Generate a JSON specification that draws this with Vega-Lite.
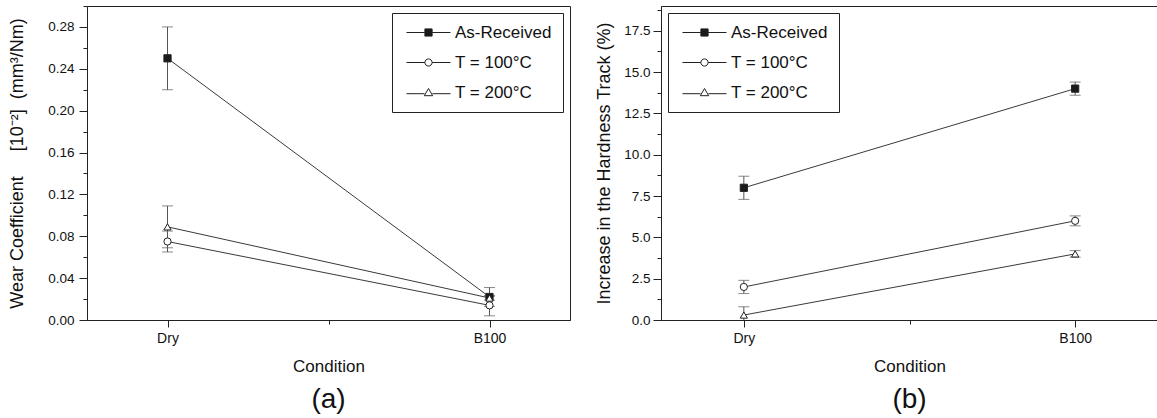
{
  "$schema": "https://vega.github.io/schema/vega-lite/v6.json",
  "padding": {"left": 8, "top": 5, "right": 0, "bottom": 0},
  "spacing": 24,
  "datasets": {
    "cond": [
      {"condition": "Dry", "order": 1},
      {"condition": "B100", "order": 2}
    ],
    "wear": [
      {"series": "As-Received", "condition": "Dry", "value": 0.25, "lo": 0.22, "hi": 0.28},
      {"series": "As-Received", "condition": "B100", "value": 0.022, "lo": 0.013, "hi": 0.031},
      {"series": "T = 100°C", "condition": "Dry", "value": 0.075, "lo": 0.065, "hi": 0.085},
      {"series": "T = 100°C", "condition": "B100", "value": 0.014, "lo": 0.004, "hi": 0.023},
      {"series": "T = 200°C", "condition": "Dry", "value": 0.089, "lo": 0.069, "hi": 0.109},
      {"series": "T = 200°C", "condition": "B100", "value": 0.021, "lo": 0.019, "hi": 0.023}
    ],
    "hard": [
      {"series": "As-Received", "condition": "Dry", "value": 8.0, "lo": 7.3, "hi": 8.7},
      {"series": "As-Received", "condition": "B100", "value": 14.0, "lo": 13.6, "hi": 14.4},
      {"series": "T = 100°C", "condition": "Dry", "value": 2.0, "lo": 1.6, "hi": 2.4},
      {"series": "T = 100°C", "condition": "B100", "value": 6.0, "lo": 5.7, "hi": 6.3},
      {"series": "T = 200°C", "condition": "Dry", "value": 0.3, "lo": -0.2, "hi": 0.8},
      {"series": "T = 200°C", "condition": "B100", "value": 4.0, "lo": 3.8, "hi": 4.2}
    ]
  },
  "hconcat": [
    {
      "width": 483,
      "height": 314,
      "data": {"name": "wear"},
      "transform": [
        {"lookup": "condition", "from": {"data": {"name": "cond"}, "key": "condition", "fields": ["order"]}}
      ],
      "title": {"text": "(a)", "orient": "bottom", "anchor": "middle", "frame": "group", "fontSize": 28, "fontWeight": "normal", "font": "Liberation Sans", "color": "#111", "offset": 12},
      "layer": [
        {
          "mark": {"type": "line", "color": "#3a3a3a", "strokeWidth": 1},
          "encoding": {
            "x": {"field": "order", "type": "quantitative", "scale": {"domain": [0.75, 2.25], "nice": false, "zero": false},
              "axis": {"orient": "bottom", "values": [1, 2], "labelExpr": "datum.value == 1 ? 'Dry' : 'B100'", "tickSize": 7, "labelPadding": 4, "labelFontSize": 14, "title": "Condition", "titlePadding": 13, "titleFontSize": 17}},
            "y": {"field": "value", "type": "quantitative", "scale": {"domain": [0, 0.3], "nice": false},
              "axis": {"orient": "left", "values": [0, 0.04, 0.08, 0.12, 0.16, 0.2, 0.24, 0.28], "format": ".2f", "tickSize": 8, "labelPadding": 5, "title": "Wear Coefficient\u00a0\u00a0\u00a0\u00a0\u00a0[10\u207b\u00b2]\u00a0\u00a0(mm\u00b3/Nm)", "titlePadding": 21}},
            "detail": {"field": "series"}
          }
        },
        {
          "mark": {"type": "rule", "color": "#555", "strokeWidth": 1, "clip": true},
          "encoding": {
            "x": {"field": "order", "type": "quantitative", "scale": {"domain": [0.75, 2.25], "nice": false, "zero": false},
              "axis": {"orient": "bottom", "values": [1.5], "tickSize": 4, "labels": false, "domain": false, "title": null}},
            "y": {"field": "lo", "type": "quantitative", "scale": {"domain": [0, 0.3], "nice": false},
              "axis": {"orient": "left", "values": [0.02, 0.06, 0.1, 0.14, 0.18, 0.22, 0.26, 0.3], "tickSize": 4, "labels": false, "domain": false, "title": null}},
            "y2": {"field": "hi"}
          }
        },
        {
          "mark": {"type": "tick", "orient": "horizontal", "size": 11, "thickness": 1, "color": "#555", "clip": true},
          "encoding": {
            "x": {"field": "order", "type": "quantitative", "scale": {"domain": [0.75, 2.25], "nice": false, "zero": false}, "axis": null},
            "y": {"field": "lo", "type": "quantitative", "scale": {"domain": [0, 0.3], "nice": false}, "axis": null}
          }
        },
        {
          "mark": {"type": "tick", "orient": "horizontal", "size": 11, "thickness": 1, "color": "#555", "clip": true},
          "encoding": {
            "x": {"field": "order", "type": "quantitative", "scale": {"domain": [0.75, 2.25], "nice": false, "zero": false}, "axis": null},
            "y": {"field": "hi", "type": "quantitative", "scale": {"domain": [0, 0.3], "nice": false}, "axis": null}
          }
        },
        {
          "mark": {"type": "point", "size": 52, "strokeWidth": 1, "stroke": "#222", "filled": true, "opacity": 1},
          "encoding": {
            "x": {"field": "order", "type": "quantitative", "scale": {"domain": [0.75, 2.25], "nice": false, "zero": false}, "axis": null},
            "y": {"field": "value", "type": "quantitative", "scale": {"domain": [0, 0.3], "nice": false}, "axis": null},
            "shape": {"field": "series", "type": "nominal", "legend": null,
              "scale": {"domain": ["As-Received", "T = 100°C", "T = 200°C"], "range": ["square", "circle", "triangle-up"]}},
            "fill": {"field": "series", "type": "nominal",
              "scale": {"domain": ["As-Received", "T = 100°C", "T = 200°C"], "range": ["#1a1a1a", "white", "white"]},
              "legend": {"title": null, "orient": "top-right", "offset": 7, "padding": 11, "strokeColor": "#222", "fillColor": "white",
                "labelFontSize": 17, "labelFont": "Liberation Sans", "labelColor": "#111", "symbolSize": 64, "symbolOffset": 17, "labelOffset": 18, "rowPadding": 12, "labelLimit": 300, "symbolStrokeWidth": 1,
                "encoding": {"symbols": {
                  "shape": {"value": {"expr": "datum.value === 'As-Received' ? 'M-5.5,0H-0.9M0.9,0H5.5M-0.9,-0.9H0.9V0.9H-0.9Z' : datum.value === 'T = 100°C' ? 'M-5.5,0H-0.9M0.9,0H5.5M-0.9,0A0.9,0.9,0,1,0,0.9,0A0.9,0.9,0,1,0,-0.9,0Z' : 'M-5.5,0.3H-1M1,0.3H5.5M0,-1L1.05,0.8L-1.05,0.8Z'"}},
                  "fill": {"value": {"expr": "datum.value === 'As-Received' ? '#1a1a1a' : 'white'"}},
                  "stroke": {"value": "#222"},
                  "strokeWidth": {"value": 1}}}}}
          }
        }
      ],
      "resolve": {"axis": {"x": "independent", "y": "independent"}}
    },
    {
      "width": 497,
      "height": 314,
      "data": {"name": "hard"},
      "transform": [
        {"lookup": "condition", "from": {"data": {"name": "cond"}, "key": "condition", "fields": ["order"]}}
      ],
      "title": {"text": "(b)", "orient": "bottom", "anchor": "middle", "frame": "group", "fontSize": 28, "fontWeight": "normal", "font": "Liberation Sans", "color": "#111", "offset": 12},
      "layer": [
        {
          "mark": {"type": "line", "color": "#3a3a3a", "strokeWidth": 1},
          "encoding": {
            "x": {"field": "order", "type": "quantitative", "scale": {"domain": [0.75, 2.25], "nice": false, "zero": false},
              "axis": {"orient": "bottom", "values": [1, 2], "labelExpr": "datum.value == 1 ? 'Dry' : 'B100'", "tickSize": 7, "labelPadding": 4, "labelFontSize": 14, "title": "Condition", "titlePadding": 13, "titleFontSize": 17}},
            "y": {"field": "value", "type": "quantitative", "scale": {"domain": [0, 19], "nice": false},
              "axis": {"orient": "left", "values": [0, 2.5, 5, 7.5, 10, 12.5, 15, 17.5], "format": ".1f", "tickSize": 8, "labelPadding": 3, "title": "Increase in the Hardness Track (%)", "titlePadding": 10}},
            "detail": {"field": "series"}
          }
        },
        {
          "mark": {"type": "rule", "color": "#555", "strokeWidth": 1, "clip": true},
          "encoding": {
            "x": {"field": "order", "type": "quantitative", "scale": {"domain": [0.75, 2.25], "nice": false, "zero": false},
              "axis": {"orient": "bottom", "values": [1.5], "tickSize": 4, "labels": false, "domain": false, "title": null}},
            "y": {"field": "lo", "type": "quantitative", "scale": {"domain": [0, 19], "nice": false},
              "axis": {"orient": "left", "values": [1.25, 3.75, 6.25, 8.75, 11.25, 13.75, 16.25, 18.75], "tickSize": 4, "labels": false, "domain": false, "title": null}},
            "y2": {"field": "hi"}
          }
        },
        {
          "mark": {"type": "tick", "orient": "horizontal", "size": 11, "thickness": 1, "color": "#555", "clip": true},
          "encoding": {
            "x": {"field": "order", "type": "quantitative", "scale": {"domain": [0.75, 2.25], "nice": false, "zero": false}, "axis": null},
            "y": {"field": "lo", "type": "quantitative", "scale": {"domain": [0, 19], "nice": false}, "axis": null}
          }
        },
        {
          "mark": {"type": "tick", "orient": "horizontal", "size": 11, "thickness": 1, "color": "#555", "clip": true},
          "encoding": {
            "x": {"field": "order", "type": "quantitative", "scale": {"domain": [0.75, 2.25], "nice": false, "zero": false}, "axis": null},
            "y": {"field": "hi", "type": "quantitative", "scale": {"domain": [0, 19], "nice": false}, "axis": null}
          }
        },
        {
          "mark": {"type": "point", "size": 52, "strokeWidth": 1, "stroke": "#222", "filled": true, "opacity": 1},
          "encoding": {
            "x": {"field": "order", "type": "quantitative", "scale": {"domain": [0.75, 2.25], "nice": false, "zero": false}, "axis": null},
            "y": {"field": "value", "type": "quantitative", "scale": {"domain": [0, 19], "nice": false}, "axis": null},
            "shape": {"field": "series", "type": "nominal", "legend": null,
              "scale": {"domain": ["As-Received", "T = 100°C", "T = 200°C"], "range": ["square", "circle", "triangle-up"]}},
            "fill": {"field": "series", "type": "nominal",
              "scale": {"domain": ["As-Received", "T = 100°C", "T = 200°C"], "range": ["#1a1a1a", "white", "white"]},
              "legend": {"title": null, "orient": "top-left", "offset": 7, "padding": 11, "strokeColor": "#222", "fillColor": "white",
                "labelFontSize": 17, "labelFont": "Liberation Sans", "labelColor": "#111", "symbolSize": 64, "symbolOffset": 17, "labelOffset": 18, "rowPadding": 12, "labelLimit": 300, "symbolStrokeWidth": 1,
                "encoding": {"symbols": {
                  "shape": {"value": {"expr": "datum.value === 'As-Received' ? 'M-5.5,0H-0.9M0.9,0H5.5M-0.9,-0.9H0.9V0.9H-0.9Z' : datum.value === 'T = 100°C' ? 'M-5.5,0H-0.9M0.9,0H5.5M-0.9,0A0.9,0.9,0,1,0,0.9,0A0.9,0.9,0,1,0,-0.9,0Z' : 'M-5.5,0.3H-1M1,0.3H5.5M0,-1L1.05,0.8L-1.05,0.8Z'"}},
                  "fill": {"value": {"expr": "datum.value === 'As-Received' ? '#1a1a1a' : 'white'"}},
                  "stroke": {"value": "#222"},
                  "strokeWidth": {"value": 1}}}}}
          }
        }
      ],
      "resolve": {"axis": {"x": "independent", "y": "independent"}}
    }
  ],
  "config": {
    "font": "Liberation Sans",
    "view": {"stroke": "#222", "strokeWidth": 1},
    "axis": {"domainColor": "#222", "tickColor": "#222", "labelColor": "#111", "titleColor": "#111", "labelFont": "Liberation Sans", "titleFont": "Liberation Sans", "labelFontSize": 13.5, "titleFontSize": 18, "titleFontWeight": "normal", "grid": false, "domainWidth": 1, "tickWidth": 1}
  }
}
